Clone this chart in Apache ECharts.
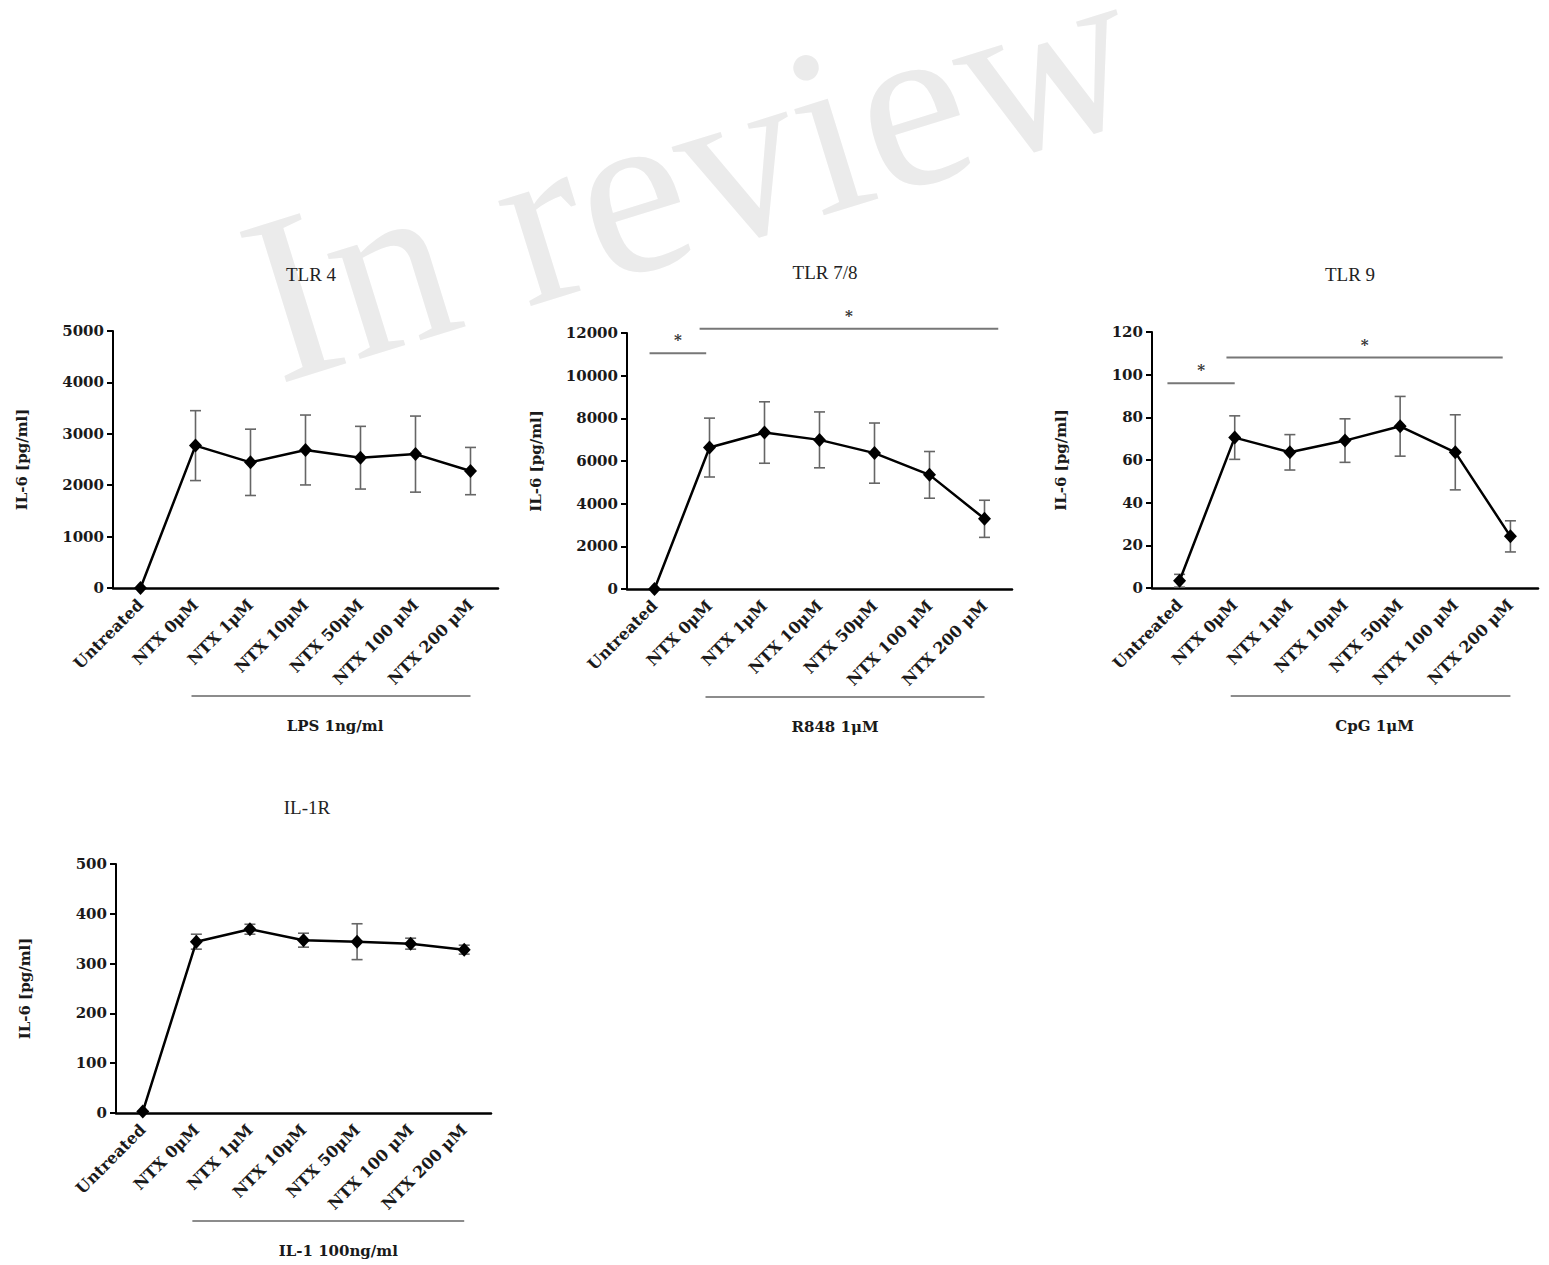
<!DOCTYPE html>
<html>
<head>
<meta charset="utf-8">
<title>IL-6 release with NTX</title>
<script src="https://cdn.jsdelivr.net/npm/echarts@6/dist/echarts.min.js"></script>
<style>
  html, body { margin: 0; padding: 0; background: #fff; }
  #chart { width: 1549px; height: 1265px; }
</style>
</head>
<body>
<div id="chart"></div>
<script>
// categories on every x axis
const categories = ['Untreated', 'NTX 0μM', 'NTX 1μM', 'NTX 10μM', 'NTX 50μM', 'NTX 100 μM', 'NTX 200 μM'];

// IL-6 [pg/ml], mean and error per panel
const tlr4Mean = [0, 2770, 2445, 2685, 2535, 2605, 2275];
const tlr4Err = [0, 680, 645, 680, 610, 740, 460];
const tlr78Mean = [0, 6630, 7335, 6990, 6370, 5350, 3290];
const tlr78Err = [0, 1380, 1440, 1310, 1410, 1095, 870];
const tlr9Mean = [3.4, 70.5, 63.6, 69.1, 75.8, 63.6, 24.2];
const tlr9Err = [3, 10.2, 8.3, 10.2, 14, 17.6, 7.3];
const il1rMean = [3, 344, 369, 347, 344, 340, 328];
const il1rErr = [0, 15, 10, 14, 36, 11, 9];

const panelTitles = ['TLR 4', 'TLR 7/8', 'TLR 9', 'IL-1R'];
const stimulusLabels = ['LPS 1ng/ml', 'R848 1μM', 'CpG 1μM', 'IL-1 100ng/ml'];
const yMax = [5000, 12000, 120, 500];
const yStep = [1000, 2000, 20, 100];

// significance bars: [from category, to category, y value]
const tlr78Sig = [[0, 1, 11050], [1, 6, 12200]];
const tlr9Sig = [[0, 1, 96], [1, 6, 108]];

const means = [tlr4Mean, tlr78Mean, tlr9Mean, il1rMean];
const errs = [tlr4Err, tlr78Err, tlr9Err, il1rErr];
const sigs = [[], tlr78Sig, tlr9Sig, []];

// layout
const grids = [
  { left: 113, top: 331, width: 385, height: 257 },
  { left: 627, top: 333, width: 385, height: 256 },
  { left: 1152, top: 332, width: 386, height: 256 },
  { left: 116, top: 864, width: 375, height: 249 }
];
const titlePos = [[306, 260], [820, 258], [1345, 260], [302, 793]];
// nudge of the stimulus label from the bracket middle (px)
const stimShift = [4, -10, 4, 10];
// how far the sig bar ends sit from the category centres (in bands)
const sigShift = [[], [[-0.09, -0.06], [-0.18, 0.25]], [[-0.22, 0], [-0.15, -0.14]], []];

const serif = 'DejaVu Serif';
const chart = echarts.init(document.getElementById('chart'), null, { renderer: 'svg' });

let xAxes = [], yAxes = [], series = [], titles = [];

for (let k = 0; k < 4; k++) {
  titles.push({
    text: panelTitles[k],
    left: titlePos[k][0],
    top: titlePos[k][1],
    textAlign: 'center',
    textStyle: { fontFamily: 'Liberation Serif', fontWeight: 'normal', fontSize: 19, color: '#222' }
  });

  xAxes.push({
    type: 'category',
    gridIndex: k,
    data: categories,
    boundaryGap: true,
    axisLine: { lineStyle: { color: '#000', width: 2.5 } },
    axisTick: { alignWithLabel: true, length: 7, lineStyle: { color: '#000', width: 2 } },
    axisLabel: {
      interval: 0, rotate: 45, margin: 14,
      fontFamily: serif, fontWeight: 'bold', fontSize: 16, color: '#1a1a1a'
    },
    splitLine: { show: false }
  });

  yAxes.push({
    type: 'value',
    gridIndex: k,
    min: 0,
    max: yMax[k],
    interval: yStep[k],
    name: 'IL-6 [pg/ml]',
    nameLocation: 'middle',
    nameGap: 84,
    nameTextStyle: { fontFamily: serif, fontWeight: 'bold', fontSize: 15, color: '#1a1a1a' },
    axisLine: { show: true, lineStyle: { color: '#000', width: 2 } },
    axisTick: { show: true, length: 6, lineStyle: { color: '#000', width: 2 } },
    axisLabel: {
      margin: 9,
      fontFamily: serif, fontWeight: 'bold', fontSize: 15, color: '#1a1a1a',
      formatter: v => String(v)
    },
    splitLine: { show: false }
  });

  // error bars
  series.push({
    type: 'custom',
    xAxisIndex: k,
    yAxisIndex: k,
    z: 2,
    encode: { x: 0, y: [1, 2] },
    data: means[k].map((m, i) => [i, m + errs[k][i], Math.max(0, m - errs[k][i])]),
    renderItem: function (params, api) {
      const hi = api.coord([api.value(0), api.value(1)]);
      const lo = api.coord([api.value(0), api.value(2)]);
      const cap = 5.5;
      const st = { stroke: '#666', lineWidth: 1.6 };
      return {
        type: 'group',
        children: [
          { type: 'line', shape: { x1: hi[0], y1: hi[1], x2: lo[0], y2: lo[1] }, style: st },
          { type: 'line', shape: { x1: hi[0] - cap, y1: hi[1], x2: hi[0] + cap, y2: hi[1] }, style: st },
          { type: 'line', shape: { x1: lo[0] - cap, y1: lo[1], x2: lo[0] + cap, y2: lo[1] }, style: st }
        ]
      };
    }
  });

  // mean line
  series.push({
    type: 'line',
    xAxisIndex: k,
    yAxisIndex: k,
    z: 3,
    data: means[k],
    symbol: 'diamond',
    symbolSize: [13, 14],
    itemStyle: { color: '#000' },
    lineStyle: { color: '#000', width: 2.5 }
  });

  // stimulus bracket under the treated groups
  series.push({
    type: 'custom',
    xAxisIndex: k,
    yAxisIndex: k,
    clip: false,
    silent: true,
    data: [[1, 6, 0]],
    renderItem: (function (label, shift) {
      return function (params, api) {
        const a = api.coord([api.value(0), api.value(2)]);
        const b = api.coord([api.value(1), api.value(2)]);
        const y = a[1] + 108;
        const x0 = a[0] - 4;
        return {
          type: 'group',
          children: [
            { type: 'line', shape: { x1: x0, y1: y, x2: b[0], y2: y }, style: { stroke: '#666', lineWidth: 1.6 } },
            {
              type: 'text', x: (x0 + b[0]) / 2 + shift, y: y + 30,
              style: {
                text: label, fill: '#1a1a1a', fontFamily: serif, fontWeight: 'bold', fontSize: 15,
                align: 'center', verticalAlign: 'middle'
              }
            }
          ]
        };
      };
    })(stimulusLabels[k], stimShift[k])
  });

  // significance bars
  if (sigs[k].length) {
    series.push({
      type: 'custom',
      xAxisIndex: k,
      yAxisIndex: k,
      clip: false,
      silent: true,
      data: sigs[k].map((s, j) => [s[0], s[1], s[2], sigShift[k][j][0], sigShift[k][j][1]]),
      renderItem: function (params, api) {
        const band = api.size([1, 0])[0];
        const a = api.coord([api.value(0), api.value(2)]);
        const b = api.coord([api.value(1), api.value(2)]);
        const x0 = a[0] + api.value(3) * band;
        const x1 = b[0] + api.value(4) * band;
        return {
          type: 'group',
          children: [
            { type: 'line', shape: { x1: x0, y1: a[1], x2: x1, y2: a[1] }, style: { stroke: '#777', lineWidth: 2 } },
            {
              type: 'text', x: (x0 + x1) / 2, y: a[1] - 13,
              style: {
                text: '*', fill: '#333', fontFamily: serif, fontWeight: 'bold', fontSize: 15,
                align: 'center', verticalAlign: 'middle'
              }
            }
          ]
        };
      }
    });
  }
}

chart.setOption({
  animation: false,
  backgroundColor: '#fff',
  title: titles,
  grid: grids,
  xAxis: xAxes,
  yAxis: yAxes,
  series: series,
  graphic: [{
    type: 'text',
    x: 690,
    y: 172,
    rotation: 0.30,
    z: -10,
    silent: true,
    style: {
      text: 'In review',
      fill: '#ebebeb',
      fontFamily: 'Liberation Serif',
      fontSize: 240,
      align: 'center',
      verticalAlign: 'middle'
    }
  }]
});
</script>
</body>
</html>
